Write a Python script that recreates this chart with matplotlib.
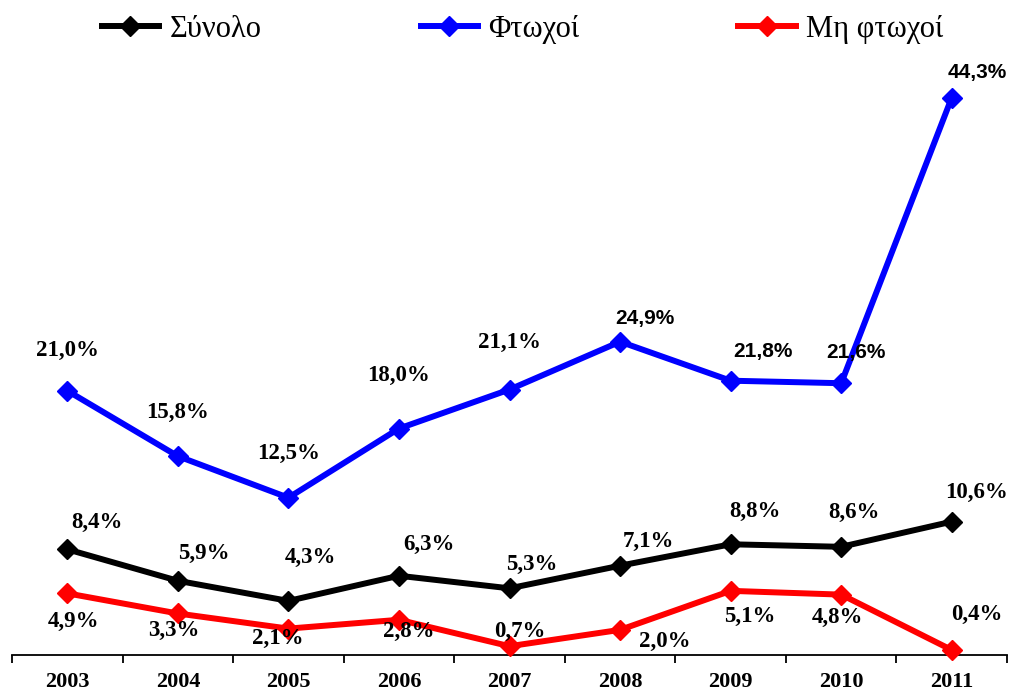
import numpy as np
import matplotlib.pyplot as plt

years = ['2003', '2004', '2005', '2006', '2007', '2008', '2009', '2010', '2011']
total = [8.4, 5.9, 4.3, 6.3, 5.3, 7.1, 8.8, 8.6, 10.6]
poor = [21.0, 15.8, 12.5, 18.0, 21.1, 24.9, 21.8, 21.6, 44.3]
non_poor = [4.9, 3.3, 2.1, 2.8, 0.7, 2.0, 5.1, 4.8, 0.4]
series_names = ['Σύνολο', 'Φτωχοί', 'Μη φτωχοί']

# label offsets in pixels (dx, dy up)
poor_off = [(0, 40), (0, 44), (0, 44), (0, 53), (0, 47), (25, 23), (32, 29), (15, 31), (25, 25)]
total_off = [(30, 27), (26, 27), (22, 43), (30, 31), (22, 24), (28, 24), (24, 33), (13, 34), (25, 29)]
red_off = [(6, -28), (-4, -17), (-11, -10), (10, -12), (10, 15), (45, -12), (19, -26), (-4, -23), (25, 36)]
# which poor labels use the sans font
poor_sans = [False, False, False, False, False, True, True, True, True]

fig = plt.figure(figsize=(10.11, 6.93), dpi=100)
ax = fig.add_axes([0.0119, 0.0548, 0.9842, 0.8716])

x = np.arange(len(years))
lw = 4.3
ms = 10
l1, = ax.plot(x, total, color='black', lw=lw, marker='D', ms=ms, mec='black', clip_on=False, zorder=3)
l2, = ax.plot(x, poor, color='#0000ff', lw=lw, marker='D', ms=ms, mec='#0000ff', clip_on=False, zorder=3)
l3, = ax.plot(x, non_poor, color='#ff0000', lw=lw, marker='D', ms=ms, mec='#ff0000', clip_on=False, zorder=3)

px2pt = 0.72


def fmt(v):
    return f'{v:.1f}%'.replace('.', ',')


def label(vals, offs, sans=None):
    for i, (v, (dx, dy)) in enumerate(zip(vals, offs)):
        if sans is not None and sans[i]:
            fam, size = 'Liberation Sans', 15
        else:
            fam, size = 'Liberation Serif', 16.5
        ax.annotate(fmt(v), (i, v), xytext=(dx * px2pt, dy * px2pt), textcoords='offset points',
                    ha='center', va='center', fontsize=size, fontweight='bold', family=fam,
                    annotation_clip=False, zorder=5)


label(poor, poor_off, poor_sans)
label(total, total_off)
label(non_poor, red_off)

ax.set_xlim(-0.5, len(years) - 0.5)
ax.set_ylim(0, 48)
for s in ['top', 'right', 'left']:
    ax.spines[s].set_visible(False)
ax.spines['bottom'].set_linewidth(1.3)
ax.set_yticks([])
ax.set_xticks(np.arange(-0.5, len(years)))
ax.set_xticklabels([])
ax.tick_params(axis='x', which='major', direction='out', length=5.5, width=1.3)
ax.set_xticks(x, minor=True)
ax.set_xticklabels(years, minor=True, fontsize=16, fontweight='bold', family='Liberation Serif')
ax.tick_params(axis='x', which='minor', length=0, pad=12.5)

fig.legend([l1, l2, l3], series_names, loc='center', bbox_to_anchor=(0.517, 0.958), ncol=3,
           frameon=False, prop={'family': 'Liberation Serif', 'size': 22},
           handlelength=1.87, handletextpad=0.35, columnspacing=5.2)

plt.savefig('out.png')
